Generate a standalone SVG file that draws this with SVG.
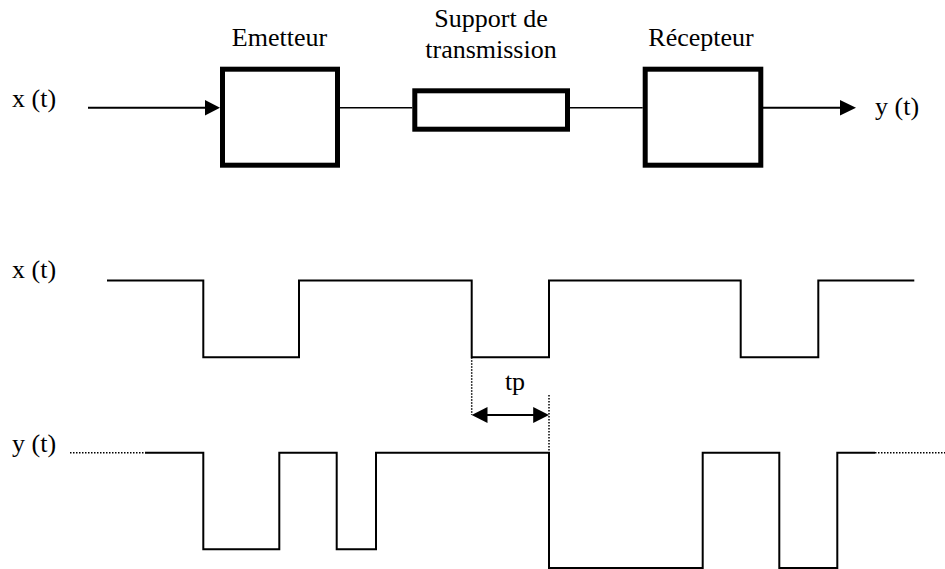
<svg xmlns="http://www.w3.org/2000/svg" width="945" height="569" viewBox="0 0 945 569">
<style>
text{font-family:"Liberation Serif","Times New Roman","DejaVu Serif",serif;font-size:26px;fill:#000}
.box{fill:none;stroke:#000;stroke-width:5}
.wire{fill:none;stroke:#000;stroke-width:1.6}
.arr{fill:none;stroke:#000;stroke-width:2}
.sig{fill:none;stroke:#000;stroke-width:2;stroke-linejoin:miter}
.dot{fill:none;stroke:#000;stroke-width:1.5;stroke-dasharray:1.5 1.5}
</style>
<rect width="945" height="569" fill="#fff"/>
<g id="label-xt-top"><text x="12" y="107" font-family="Liberation Serif, serif">x (t)</text></g>
<g id="label-yt-top"><text x="875" y="115" font-family="Liberation Serif, serif">y (t)</text></g>
<g id="emetteur">
<rect class="box" x="222.5" y="69.2" width="115" height="96"/>
<text x="279.5" y="45.5" text-anchor="middle" font-family="Liberation Serif, serif">Emetteur</text>
</g>
<g id="support">
<rect class="box" x="414.8" y="90.8" width="152.7" height="38.4"/>
<text x="491" y="26.5" text-anchor="middle" font-family="Liberation Serif, serif">Support de</text>
<text x="491" y="58" text-anchor="middle" font-family="Liberation Serif, serif">transmission</text>
</g>
<g id="recepteur">
<rect class="box" x="645.2" y="69.2" width="115.6" height="96"/>
<text x="701" y="45.5" text-anchor="middle" font-family="Liberation Serif, serif">Récepteur</text>
</g>
<g id="connectors">
<line class="arr" x1="88" y1="107.7" x2="207" y2="107.7"/>
<polygon points="205,100 220,107.7 205,115.4" fill="#000"/>
<line class="wire" x1="340" y1="107.7" x2="412.3" y2="107.7"/>
<line class="wire" x1="570" y1="107.7" x2="642.7" y2="107.7"/>
<line class="arr" x1="763" y1="107.7" x2="842" y2="107.7"/>
<polygon points="840,100 856,107.7 840,115.4" fill="#000"/>
</g>
<g id="signal-x">
<text x="12" y="278" font-family="Liberation Serif, serif">x (t)</text>
<path class="sig" d="M107,280.5 H203.3 V357.3 H299 V280.5 H471.7 V357.3 H549 V280.5 H740.7 V357.3 H818.3 V280.5 H914.3"/>
</g>
<g id="signal-y">
<text x="12" y="452" font-family="Liberation Serif, serif">y (t)</text>
<path class="dot" d="M70,452.7 H145"/>
<path class="sig" d="M145,452.7 H203.3 V549.3 H279.3 V452.7 H336.7 V549.3 H376 V452.7 H549 V568 H702.7 V452.7 H779.3 V568 H837.3 V452.7 H875"/>
<path class="dot" d="M875,452.7 H945"/>
</g>
<g id="tp">
<path class="dot" d="M471.7,357.3 V415 M549,395 V452.7"/>
<line class="arr" x1="484" y1="415" x2="537" y2="415"/>
<polygon points="471.7,415 487.5,407 487.5,423" fill="#000"/>
<polygon points="549,415 533.2,407 533.2,423" fill="#000"/>
<text x="515" y="390" text-anchor="middle" font-family="Liberation Serif, serif">tp</text>
</g>
</svg>
